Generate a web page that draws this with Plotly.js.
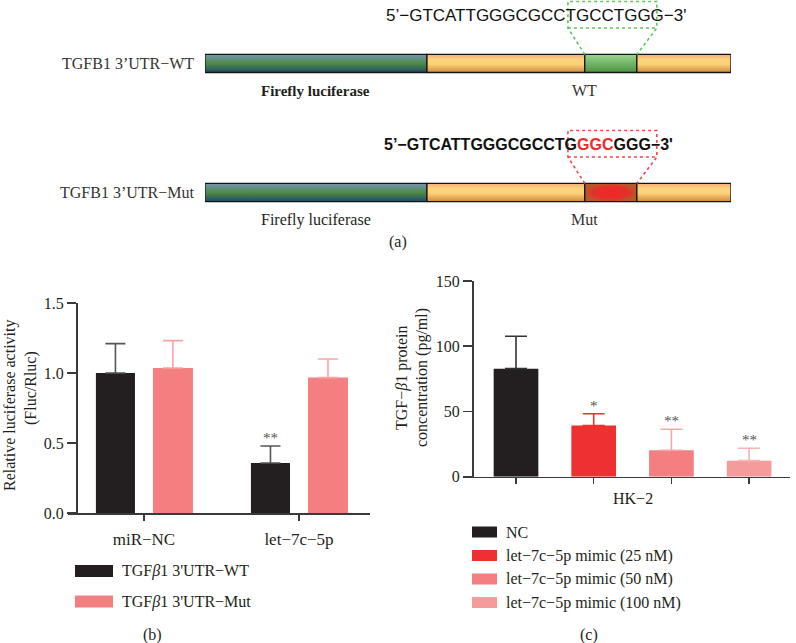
<!DOCTYPE html>
<html>
<head>
<meta charset="utf-8">
<script src="https://cdn.plot.ly/plotly-3.0.1.min.js"></script>
<style>
  body { margin: 0; background: #fff; }
  #chart { width: 796px; height: 643px; }
</style>
</head>
<body>
<div id="chart"></div>
<script>
// ---- panel (a): construct map (positions in % of construct length)
const segNames = ["Firefly luciferase", "3'UTR", "site", "3'UTR"];
const segBounds = [0, 42.2, 72.2, 82.1, 100];
const seqBox = [69.0, 85.9];
const rowNames = ["TGFB1 3’UTR−WT", "TGFB1 3’UTR−Mut"];
const rowSites = ["WT", "Mut"];
const rowSeqs = [
  "5’−GTCATTGGGCGCCTGCCTGGG−3'",
  "<b>5’−GTCATTGGGCGCCTG<span style='color:#ee2b2b'>GGC</span>GGG−3'</b>"
];

// ---- panel (b): luciferase reporter
const lucGroups = ["miR−NC", "let−7c−5p"];
const lucSeries = ["TGF<i>β</i>1 3'UTR−WT", "TGF<i>β</i>1 3'UTR−Mut"];
const lucWT = [1.0, 0.357];
const lucWTerr = [0.21, 0.122];
const lucMut = [1.036, 0.967];
const lucMutErr = [0.195, 0.133];
const lucStars = ["", "**"];

// ---- panel (c): ELISA
const elisaGroups = ["NC", "let−7c−5p mimic (25 nM)", "let−7c−5p mimic (50 nM)", "let−7c−5p mimic (100 nM)"];
const elisaVals = [82.8, 39.2, 20.3, 12.3];
const elisaErr = [24.9, 9.0, 16.1, 9.5];
const elisaStars = ["", "*", "**", "**"];

const W = 796, H = 643;
const px = v => v / W;
const py = v => 1 - v / H;
const serif = "Liberation Serif, Times New Roman, serif";
const sans = "Liberation Sans, Arial, sans-serif";
const ink = "#231f20";

const barColsB = ["#231f20", "#f47f81"];
const errColsB = ["#555555", "#f7a5a7"];
const barColsC = ["#231f20", "#ee3130", "#f47f81", "#f59b9c"];
const errColsC = ["#333333", "#ee3130", "#f7a5a7", "#f7b3b4"];

const lucScale = [[0, "#1f4a6b"], [0.5, "#4f8a45"], [1, "#7396b3"]];
const utrScale = [[0, "#d08a3c"], [0.45, "#fbd078"], [0.7, "#fdd57d"], [1, "#f3ad7a"]];
const siteScales = [
  {type: "vertical", colorscale: [[0, "#4a9440"], [1, "#9bd58e"]]},
  {type: "radial", colorscale: [[0, "#f22626"], [0.7, "#e2322b"], [1, "#b9572c"]]}
];
const dotCols = ["#5cc75c", "#f0464f"];
const seqSizes = [17, 16];

const traces = [];
const annotations = [];
const shapes = [];
const half = 0.07;

// paper-placed text, coordinates in pixels of the 796x643 figure
const txt = (x, y, t, extra) => Object.assign({
  xref: "paper", yref: "paper", x: px(x), y: py(y), text: t, showarrow: false,
  xanchor: "center", yanchor: "middle",
  font: {family: serif, size: 16, color: ink}
}, extra || {});

rowNames.forEach((name, r) => {
  const yc = 1 - r;
  for (let s = 0; s < segNames.length; s++) {
    const x0 = segBounds[s], x1 = segBounds[s + 1];
    let grad = {type: "vertical", colorscale: s === 0 ? lucScale : utrScale};
    if (s === 2) grad = siteScales[r];
    traces.push({
      type: "scatter", mode: "lines", xaxis: "x3", yaxis: "y3",
      x: [x0, x1, x1, x0, x0], y: [yc - half, yc - half, yc + half, yc + half, yc - half],
      fill: "toself", fillgradient: grad,
      line: {color: "#151515", width: 1.3},
      hoverinfo: "skip", showlegend: false
    });
  }
  // dotted zoom box from sequence to site
  const bt = yc + 0.48, bb = yc + 0.275, top = yc + half;
  traces.push({
    type: "scatter", mode: "lines", xaxis: "x3", yaxis: "y3",
    x: [segBounds[2], seqBox[0], seqBox[0], seqBox[1], seqBox[1], segBounds[3], null, seqBox[0], seqBox[1]],
    y: [top, bb, bt, bt, bb, top, null, bb, bb],
    line: {color: dotCols[r], width: 1.6, dash: "dot"},
    hoverinfo: "skip", showlegend: false
  });
  annotations.push(txt(196, [63.5, 192.5][r], name,
    {xanchor: "right", font: {family: serif, size: 16, color: "#333"}}));
  annotations.push({
    xref: "x3", yref: "y3", x: (segBounds[0] + segBounds[1]) / 2, y: yc - 0.21,
    text: r === 0 ? "<b>" + segNames[0] + "</b>" : segNames[0], showarrow: false,
    font: {family: serif, size: r === 0 ? 15 : 16, color: ink}
  });
  annotations.push({
    xref: "x3", yref: "y3", x: segBounds[2], y: yc - 0.21,
    text: rowSites[r], showarrow: false, font: {family: serif, size: 16, color: "#333"}
  });
  annotations.push({
    xref: "x3", yref: "y3", x: r === 0 ? 34.0 : 33.6, y: yc + 0.372, xanchor: "left",
    text: rowSeqs[r], showarrow: false, font: {family: sans, size: seqSizes[r], color: "#111"}
  });
});

// panel (b) bars
const lucOffsets = [-0.31, 0.058];
const lucWidths = [0.252, 0.258];
[[lucWT, lucWTerr], [lucMut, lucMutErr]].forEach(([vals, errs], k) => {
  traces.push({
    type: "bar", x: lucGroups, y: vals, xaxis: "x", yaxis: "y",
    width: lucWidths[k], offset: lucOffsets[k],
    marker: {color: barColsB[k], line: {width: 0}},
    error_y: {type: "data", symmetric: false, array: errs, arrayminus: errs.map(() => 0),
      color: errColsB[k], thickness: 1.6, width: 10},
    name: lucSeries[k], showlegend: false, hoverinfo: "y"
  });
});
lucStars.forEach((st, i) => {
  if (!st) return;
  annotations.push({
    xref: "x", yref: "y", x: i + lucOffsets[0] + lucWidths[0] / 2, y: lucWT[i] + lucWTerr[i],
    yanchor: "bottom", yshift: -2, text: st, showarrow: false,
    font: {family: serif, size: 15, color: "#555"}
  });
});

// panel (c) bars
const cWidth = 0.575;
elisaGroups.forEach((g, i) => {
  traces.push({
    type: "bar", x: [i], y: [elisaVals[i]], xaxis: "x2", yaxis: "y2",
    width: cWidth, offset: -cWidth / 2,
    marker: {color: barColsC[i], line: {width: 0}},
    error_y: {type: "data", symmetric: false, array: [elisaErr[i]], arrayminus: [0],
      color: errColsC[i], thickness: 1.6, width: 11},
    name: g, showlegend: false, hoverinfo: "y"
  });
  if (elisaStars[i]) {
    annotations.push({
      xref: "x2", yref: "y2", x: i, y: elisaVals[i] + elisaErr[i],
      yanchor: "bottom", yshift: -2, text: elisaStars[i], showarrow: false,
      font: {family: serif, size: 15, color: "#555"}
    });
  }
});

// axis titles and panel labels
annotations.push(txt(10, 406, "Relative luciferase activity", {textangle: -90}));
annotations.push(txt(31, 388, "(Fluc/Rluc)", {textangle: -90}));
annotations.push(txt(402, 378, "TGF−<i>β</i>1 protein", {textangle: -90}));
annotations.push(txt(422, 378, "concentration (pg/ml)", {textangle: -90}));
annotations.push({xref: "x2", yref: "paper", x: 1.5, y: py(498), yanchor: "middle", text: "HK−2",
  showarrow: false, font: {family: serif, size: 16, color: ink}});
annotations.push(txt(398, 242, "(a)"));
annotations.push(txt(152, 635, "(b)"));
annotations.push(txt(589, 635, "(c)"));

// legends drawn by hand (wide swatches)
lucSeries.forEach((s, k) => {
  const yc = [571, 601.5][k];
  shapes.push({type: "rect", xref: "paper", yref: "paper", x0: px(75), x1: px(113),
    y0: py(yc - 6), y1: py(yc + 6), fillcolor: barColsB[k], line: {width: 0}});
  annotations.push(txt(120, yc, s, {xanchor: "left"}));
});
elisaGroups.forEach((g, i) => {
  const yc = [532, 555.5, 579, 602.5][i];
  shapes.push({type: "rect", xref: "paper", yref: "paper", x0: px(472), x1: px(497),
    y0: py(yc - 5.5), y1: py(yc + 5.5), fillcolor: barColsC[i], line: {width: 0}});
  annotations.push(txt(504, yc, g, {xanchor: "left"}));
});

const axisBase = {
  showline: true, linecolor: "#3a3a3a", linewidth: 1.5, ticks: "outside",
  tickcolor: "#3a3a3a", tickwidth: 1.5, showgrid: false, zeroline: false,
  tickfont: {family: serif, size: 16, color: ink}, fixedrange: true
};

const layout = {
  width: W, height: H,
  margin: {l: 0, r: 0, t: 0, b: 0},
  paper_bgcolor: "#fff", plot_bgcolor: "rgba(0,0,0,0)",
  barmode: "overlay", showlegend: false,
  xaxis: Object.assign({}, axisBase, {domain: [px(68), px(370)], range: [-0.49, 1.458],
    type: "category", anchor: "y", ticklen: 6, ticklabelstandoff: 4,
    tickfont: {family: serif, size: 17, color: ink}}),
  yaxis: Object.assign({}, axisBase, {domain: [py(513), py(303)], range: [0, 1.5],
    anchor: "free", position: px(76), tickvals: [0, 0.5, 1, 1.5], tickformat: ".1f", ticklen: 9}),
  xaxis2: Object.assign({}, axisBase, {domain: [px(463), px(790)], range: [-0.682, 3.526],
    anchor: "y2", tickvals: [0, 1, 2, 3], ticktext: ["", "", "", ""], ticklen: 6}),
  yaxis2: Object.assign({}, axisBase, {domain: [py(476.7), py(281)], range: [0, 150],
    anchor: "free", position: px(472), tickvals: [0, 50, 100, 150], ticklen: 9}),
  xaxis3: {domain: [px(205), px(731)], range: [0, 100], visible: false, fixedrange: true},
  yaxis3: {domain: [py(250), 1], range: [-0.4457, 1.492], visible: false, fixedrange: true},
  annotations: annotations,
  shapes: shapes
};

Plotly.newPlot("chart", traces, layout, {displayModeBar: false, staticPlot: true});
</script>
</body>
</html>
